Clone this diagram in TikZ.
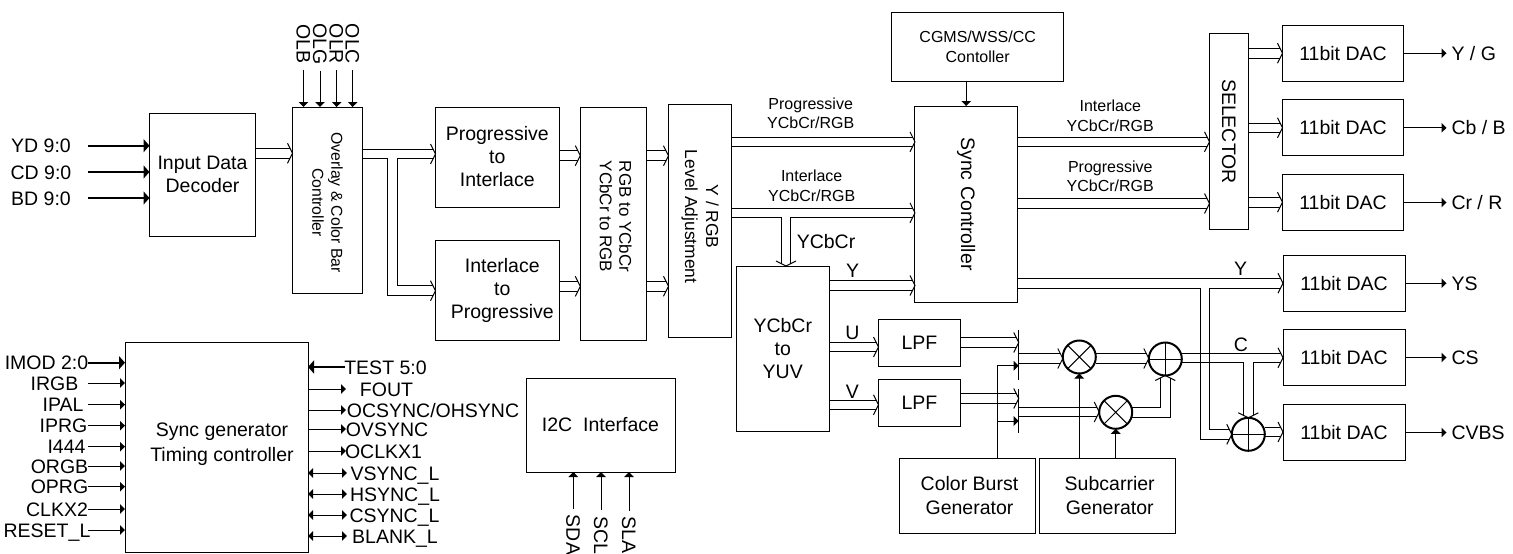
\documentclass[tikz,border=0pt]{standalone}
\usepackage{fontspec}
\setmainfont{Liberation Sans}
\usetikzlibrary{arrows.meta,backgrounds}
\newcommand{\fnt}[2]{\fontsize{#1}{#2}\selectfont}
\newcommand{\busline}[3][0]{\draw[bus] (#2) -- (#3); \pic[rotate=#1] at (#3) {busend};}

\begin{document}
\begin{tikzpicture}[
  x=1pt,y=-1pt,
  >={Triangle[length=5pt,width=9.5pt]},
  box/.style 2 args={draw,line width=1pt,minimum width=#1pt,minimum height=#2pt,
                     inner sep=0pt,outer sep=0pt,align=center,font=\fnt{19.5}{23}},
  lbl/.style={inner sep=0pt,outer sep=0pt,text height=14pt,text depth=0pt,font=\fnt{19.5}{23}},
  txt/.style={inner sep=0pt,outer sep=0pt,align=center,font=\fnt{19.5}{23}},
  bustxt/.style={inner sep=0pt,outer sep=0pt,align=center,font=\fnt{16}{19.8}},
  dot/.style={draw,circle,line width=2pt,minimum size=33pt,inner sep=0pt,outer sep=0pt},
  wire/.style={line width=1pt},
  fatwire/.style={line width=2pt,>={Triangle[length=6pt,width=13pt]}},
  bus/.style={double,double distance=8.6pt,line width=1pt},
  busend/.pic={
    \fill[white] (0,0) -- (-3,-6) -- (1,-6) -- (1,6) -- (-3,6) -- cycle;
    \draw[line width=1pt] (-5,-10) -- (0,0) -- (-5,10);
  },
]
\useasboundingbox (0,0) rectangle (1513,554);

% --- nodes: video path, top row ---
\node[box={106}{123}]   (dec)  at (202.5,174.5) {Input Data\\Decoder};
\node[box={70}{186}]    (ovl)  at (327.5,200)   {};
\node[box={123.5}{100}] (p2i)  at (497.25,157)  {Progressive\\to\\Interlace};
\node[box={123.5}{100}] (i2p)  at (497.25,290)  {};
\node[box={66.4}{233}]  (rgb)  at (613.5,223.5) {};
\node[box={63.2}{233}]  (lvl)  at (700.1,221)   {};
\node[box={102.5}{196}] (sync) at (966.2,204)   {};
\node[box={171.5}{69}]  (cgms) at (977.7,47)    {};
\node[box={38.5}{196}]  (sel)  at (1228.75,131.5) {};
\node[box={92.5}{165}]  (yuv)  at (782.75,348.5) {YCbCr\\to\\YUV};
\node[box={82}{46.5}]   (lpfa) at (919.5,342.75) {LPF};
\node[box={82}{46.5}]   (lpfb) at (919.5,402.75) {LPF};
\node[box={136}{75}]    (burst) at (967,495.8)  {};
\node[box={135.7}{75}]  (subc) at (1107.2,495.8) {};
\node[box={183}{210}]   (gen)  at (216.5,447)   {};
\node[box={149}{94}]    (i2c)  at (600.5,425)   {I2C\ \ Interface};

% --- texts that sit off the middle of their box ---
\node[txt,rotate=-90,font=\fnt{15.8}{19}] (ovltxt) at ([yshift=-2.5pt]ovl.center) {Overlay \& Color Bar\\Controller};
\node[txt] (i2ptxt) at ([xshift=5pt]i2p.center) {Interlace\\to\\Progressive};
\node[txt,rotate=-90,font=\fnt{17}{19.3}] (rgbtxt) at ([xshift=2.2pt,yshift=7pt]rgb.center) {RGB to YCbCr\\YCbCr to RGB};
\node[txt,rotate=-90,font=\fnt{17.4}{21}] (lvltxt) at ([yshift=4.3pt]lvl.center) {Y / RGB\\Level Adjustment};
\node[txt,rotate=-90,font=\fnt{19.5}{23}] (synctxt) at (sync.center) {Sync Controller};
\node[txt,font=\fnt{16}{20}] (cgmstxt) at (cgms.center) {CGMS/WSS/CC\\Contoller};
\node[txt,rotate=-90] (seltxt) at (sel.center) {SELECTOR};
\node[txt,font=\fnt{19.5}{24.4}] (bursttxt) at ([xshift=2.5pt]burst.center) {Color Burst\\Generator};
\node[txt,font=\fnt{19.5}{24.4}] (subctxt) at ([xshift=2.5pt]subc.center) {Subcarrier\\Generator};
\node[txt,font=\fnt{19.5}{25}] (gentxt) at ([xshift=5.5pt,yshift=3pt]gen.center) {Sync generator\\Timing controller};

% --- DACs and their outputs ---
\foreach \n/\cx/\w/\cy/\l/\t in {
  daca/1343/121/53.25/yg/{Y / G},
  dacb/1343/121/127.8/cbb/{Cb / B},
  dacc/1343/121/202.5/crr/{Cr / R},
  dacd/1344/122/283.25/ys/YS,
  dace/1344/122/357.5/cs/CS,
  dacf/1344/122/432.5/cvbs/CVBS} {
  \node[box={\w}{56}] (\n) at (\cx,\cy) {11bit DAC};
  \node[lbl,anchor=west] (\l) at (1451.5,\cy) {\t};
  \draw[wire,->,shorten >=5pt] (\n.east) -- (\l.west);
}

% --- mixers and adders ---
\node[dot] (mixa) at (1079.3,357)   {};
\node[dot] (mixb) at (1115.7,412.3) {};
\node[dot] (adda) at (1165.3,359)   {};
\node[dot] (addb) at (1248.3,434.3) {};
\foreach \n in {mixa,mixb}
  \draw[wire] (\n.north west) -- (\n.south east) (\n.north east) -- (\n.south west);
\foreach \n in {adda,addb}
  \draw[wire] (\n.north) -- (\n.south) (\n.west) -- (\n.east);

% --- input pins ---
\foreach \n/\t/\x/\y in {yd/YD 9:0/41/145.7, cd/CD 9:0/41/172, bd/BD 9:0/41/198} {
  \node[lbl] (\n) at (\x,\y) {\t};
  \draw[fatwire,->] (\n -| 88,0) -- (\n -| dec.west);
}
\foreach \n/\t/\x in {olb/OLB/303.5, olg/OLG/320, olr/OLR/336.7, olc/OLC/352.7} {
  \node[lbl,rotate=-90] (\n) at (\x,44) {\t};
  \draw[wire,->,shorten <=6pt] (\n.east) -- (\n.east |- ovl.north);
}

% --- timing generator pins ---
\node[lbl] (imod) at (46.5,362.7) {IMOD 2:0};
\draw[fatwire,->] (imod -| 88,0) -- (imod -| gen.west);
\foreach \n/\t/\x/\y in {
  irgb/IRGB/54.5/383, ipal/IPAL/63/404.7, iprg/IPRG/63.5/425.7, iiii/I444/66.5/446.7,
  orgb/ORGB/59.5/466, oprg/OPRG/59.5/486.7, clk/CLKX2/57/509, rst/RESET\_L/47/530} {
  \node[lbl] (\n) at (\x,\y) {\t};
  \draw[wire,->] (\n -| 88,0) -- (\n -| gen.west);
}
\node[lbl] (test) at (385.5,367) {TEST 5:0};
\draw[fatwire,->] (test -| 345,0) -- (test -| gen.east);
\foreach \n/\t/\x/\y in {
  fout/FOUT/386.5/389, ocs/{OCSYNC/OHSYNC}/433/410,
  ovs/OVSYNC/387/429, ock/OCLKX1/383.5/451} {
  \node[lbl] (\n) at (\x,\y) {\t};
  \draw[wire,->] (\n -| gen.east) -- (\n -| 346,0);
}
\foreach \n/\t/\x/\y in {
  vs/VSYNC\_L/395/473, hs/HSYNC\_L/395/494, cs/CSYNC\_L/394.5/515, bl/BLANK\_L/395/536} {
  \node[lbl] (\n) at (\x,\y) {\t};
  \draw[wire,<->] (\n -| gen.east) -- (\n -| 347,0);
}
\foreach \n/\t/\x in {sda/SDA/573.3, scl/SCL/601, sla/SLA/629} {
  \node[lbl,rotate=-90] (\n) at (\x,535) {\t};
  \draw[wire,->,shorten <=6pt] (\n.west) -- (\n.west |- i2c.south);
}

% --- signal names ---
\node[bustxt] (pyl) at (810.7,113.3) {Progressive\\YCbCr/RGB};
\node[bustxt] (iyl) at (811.7,185.4) {Interlace\\YCbCr/RGB};
\node[bustxt] (iyr) at (1110.3,115.5) {Interlace\\YCbCr/RGB};
\node[bustxt] (pyr) at (1110.3,176.2) {Progressive\\YCbCr/RGB};
\node[lbl] (yctag) at (826,241)    {YCbCr};
\node[lbl] (ytaga) at (852.7,270.7) {Y};
\node[lbl] (utag)  at (852.3,332)  {U};
\node[lbl] (vtag)  at (852.3,391)  {V};
\node[lbl] (ytagb) at (1240.7,268.7) {Y};
\node[lbl] (ctag)  at (1241,344.7) {C};

% --- buses go under the boxes ---
\begin{scope}[on background layer]
  \busline{dec.east |- 0,153.3}{ovl.west |- 0,153.3}
  \draw[bus] (ovl.east |- 0,154) -- (p2i.west |- 0,154)
             (392.3,154) |- (i2p.west |- 0,290.7);
  \pic at (p2i.west |- 0,154) {busend};
  \pic at (i2p.west |- 0,290.7) {busend};
  \foreach \y in {155.7,286.3} {
    \busline{p2i.east |- 0,\y}{rgb.west |- 0,\y}
    \busline{rgb.east |- 0,\y}{lvl.west |- 0,\y}
  }
  \busline{lvl.east |- 0,141.8}{sync.west |- 0,141.8}
  \draw[bus] (lvl.east |- 0,212.8) -- (sync.west |- 0,212.8)
             (786,212.8) -- (786,0 |- yuv.north);
  \pic at (sync.west |- 0,212.8) {busend};
  \pic[rotate=-90] at (786,0 |- yuv.north) {busend};
  \busline{yuv.east |- 0,285.5}{sync.west |- 0,285.5}
  \busline{sync.east |- 0,141.8}{sel.west |- 0,141.8}
  \busline{sync.east |- 0,203.5}{sel.west |- 0,203.5}
  \busline{sel.east |- 0,53.2}{daca.west |- 0,53.2}
  \busline{sel.east |- 0,127.8}{dacb.west |- 0,127.8}
  \busline{sel.east |- 0,202.2}{dacc.west |- 0,202.2}
  \busline{yuv.east |- 0,347}{lpfa.west |- 0,347}
  \busline{yuv.east |- 0,404.8}{lpfb.west |- 0,404.8}
  \coordinate (ticka) at (1018.7,355);
  \coordinate (tickb) at (1018.7,411);
  \busline{lpfa.east |- 0,342.5}{ticka |- 0,342.5}
  \busline{lpfb.east |- 0,398.5}{tickb |- 0,398.5}
  \busline{ticka |- 0,358.5}{mixa.west |- 0,358.5}
  \busline{tickb |- 0,412}{mixb.west |- 0,412}
  \busline{mixa.east |- 0,358.5}{adda.west |- 0,358.5}
  \draw[bus] (mixb.east) -| (adda.south);
  \pic[rotate=90] at (adda.south) {busend};
  \draw[bus] (sync.east |- 0,283.2) -- (dacd.west |- 0,283.2)
             (1205,283.2) |- (addb.west |- 0,434.3);
  \pic at (dacd.west |- 0,283.2) {busend};
  \pic at (addb.west |- 0,434.3) {busend};
  \draw[bus] (adda.east |- 0,357.8) -- (dace.west |- 0,357.8)
             (addb |- 0,357.8) -- (addb.north);
  \pic at (dace.west |- 0,357.8) {busend};
  \pic[rotate=-90] at (addb.north) {busend};
  \busline{addb.east |- 0,432}{dacf.west |- 0,432}
\end{scope}

% --- plain wires around the mixers, drawn over the buses ---
\draw[wire] (ticka |- 0,330) -- (ticka |- 0,380);
\draw[wire] (tickb |- 0,389) -- (tickb |- 0,433.3);
\draw[wire,->] (burst.north -| 997.3,0) |- (ticka |- 0,365.7);
\draw[wire,->] (997.3,421) -- (tickb |- 0,421);
\draw[wire,->] (mixa |- subc.north) -- (mixa.south);
\draw[wire,->] (mixb |- subc.north) -- (mixb.south);
\draw[wire,->] (sync |- cgms.south) -- (sync.north);
\draw[wire] (1200.2,353) -- (1200.2,362.6) (1209.8,353) -- (1209.8,362.6);

\end{tikzpicture}
\end{document}
